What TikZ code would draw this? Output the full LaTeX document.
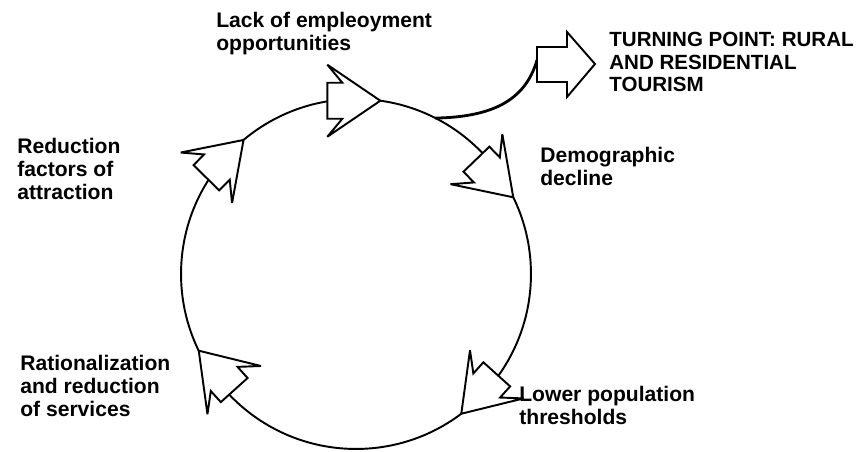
\documentclass[tikz,border=0pt]{standalone}
\usepackage{fontspec}
\setmainfont{Liberation Sans}
\usetikzlibrary{positioning}
\tikzset{
  ringline/.style={draw=black, line width=1.1pt},
  arrowline/.style={draw=black, line width=1.1pt, fill=white, miter limit=6},
  stagetext/.style={
    align=left,
    anchor=base west,
    inner sep=0pt,
    font=\bfseries\fontsize{12}{13.2}\selectfont},
  cyclearrow/.pic={
    \draw[arrowline] (0,0) -- (-53,36) -- (-38,18) -- (-53,18) -- (-53,-18)
      -- (-38,-18) -- (-53,-36) -- cycle;
  },
}
\begin{document}
\begin{tikzpicture}[x=0.02cm, y=0.02cm]
  \useasboundingbox (0,0) rectangle (862,452);

  % the cycle
  \node[ringline, circle, minimum size=7cm, inner sep=0pt, outer sep=0pt] (ring) at (356,178) {};

  % way out of the cycle
  \coordinate (turntail) at (537,392);
  \draw[ringline, line width=1.6pt] (ring.63) .. controls (490,335) and (525,350) .. (turntail);
  \draw[arrowline] (537,405) -- (567,405) -- (567,420) -- (595,388) -- (567,355)
    -- (567,370) -- (537,370) -- cycle;

  % arrows on the cycle
  \pic[rotate=0] at (ring.82) {cyclearrow};
  \pic[rotate=-46] at (ring.26.6) {cyclearrow};
  \pic[rotate=-132] at (ring.-53.6) {cyclearrow};
  \pic[rotate=132] at (ring.206.9) {cyclearrow};
  \pic[rotate=45.5] at (ring.130.8) {cyclearrow};

  % stages (base = last line)
  \node[stagetext] (lack) at (216,401) {Lack of empleoyment\\opportunities};
  \node[stagetext, font=\bfseries\fontsize{11.7}{13}\selectfont] (turn) at (609,360)
    {TURNING POINT: RURAL\\AND RESIDENTIAL\\TOURISM};
  \node[stagetext] (demo) at (540,266) {Demographic\\decline};
  \node[stagetext] (lower) at (519,27) {Lower population\\thresholds};
  \node[stagetext] (ratio) at (20,35) {Rationalization\\and reduction\\of services};
  \node[stagetext] (reduc) at (17,252) {Reduction\\factors of\\attraction};
\end{tikzpicture}
\end{document}
